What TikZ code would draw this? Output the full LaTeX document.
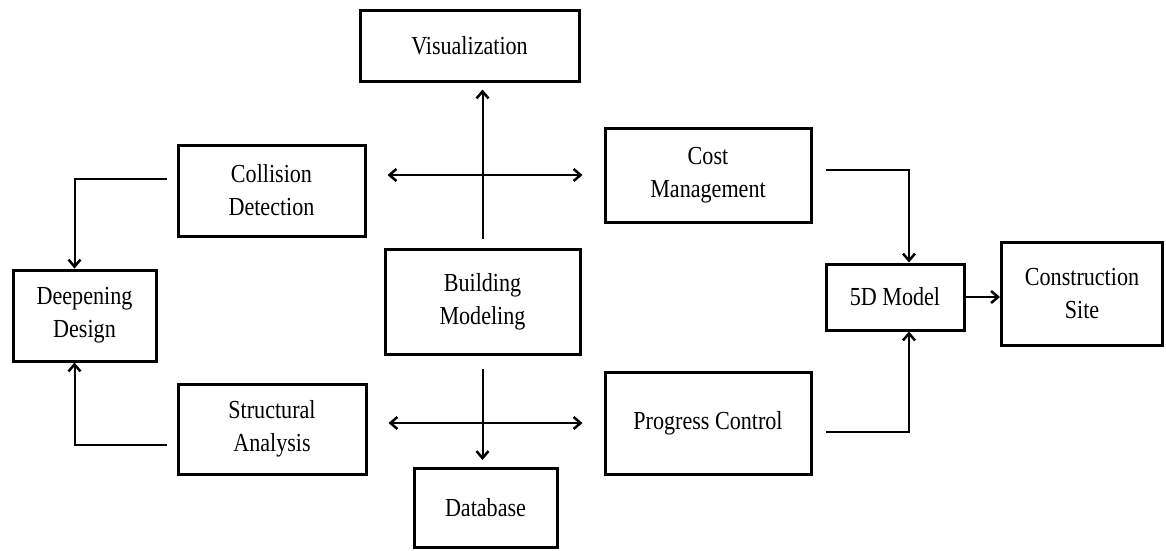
\documentclass[tikz,border=0pt]{standalone}
\usepackage{fontspec}
\setmainfont{Liberation Serif}[FakeStretch=0.85]
\usetikzlibrary{arrows.meta}

\begin{document}
\begin{tikzpicture}[x=1pt,y=-1pt,line width=2pt,
	>={Straight Barb[length=7pt,width=12pt,line width=2.5pt]}]
	\useasboundingbox (0,0) rectangle (1166,550);
	\begin{scope}[every node/.style={draw,line width=3pt,align=center,
		inner sep=0pt,font=\fontsize{26}{33}\selectfont}]
	\node (Vis) at (469.5,45.5) [minimum width=219pt,minimum height=71pt]{Visualization};
	\node (Col) at (271.5,190.5) [minimum width=187pt,minimum height=91pt]{Collision\\Detection};
	\node (Cost) at (708,175) [minimum width=206pt,minimum height=94pt]{Cost\\Management};
	\node (Deep) at (84.5,315.5) [minimum width=143pt,minimum height=91pt]{Deepening\\Design};
	\node (BM) at (482.5,301.5) [minimum width=195pt,minimum height=105pt]{Building\\Modeling};
	\node (FiveD) at (895,297) [minimum width=138pt,minimum height=66pt]{5D Model};
	\node (Site) at (1082,293.5) [minimum width=161pt,minimum height=103pt]{Construction\\Site};
	\node (Str) at (272,429) [minimum width=188pt,minimum height=90pt]{Structural\\Analysis};
	\node (Prog) at (708,423) [minimum width=206pt,minimum height=102pt]{Progress Control};
	\node (DB) at (485.5,508) [minimum width=143pt,minimum height=79pt]{Database};
	\end{scope}
	
	\path[->] (BM.north) edge[shorten <=9pt,shorten >=7pt] (BM.north |- Vis.south);
	\path[->] (BM.south) edge[shorten <=13pt,shorten >=7pt] (BM.south |- DB.north);
	\path[<->] (Col.east |- Cost.west) edge[shorten <=21pt,shorten >=21pt] (Cost.west);
	\path[<->] (Str.east |- Prog.west) edge[shorten <=21pt,shorten >=21pt] (Prog.west);
	\draw[->] ([xshift=-10pt,yshift=12pt]Col.west) -| ([xshift=-10pt]Deep.north);
	\draw[->] ([xshift=-10pt,yshift=-16pt]Str.west) -| ([xshift=-10pt]Deep.south);
	\draw[->] ([xshift=13pt,yshift=5pt]Cost.east) -| ([xshift=14pt]FiveD.north);
	\draw[->] ([xshift=13pt,yshift=-9pt]Prog.east) -| ([xshift=14pt]FiveD.south);
	\path[->] (FiveD.east) edge (FiveD.east -| Site.west);
	\end{tikzpicture}
\end{document}
